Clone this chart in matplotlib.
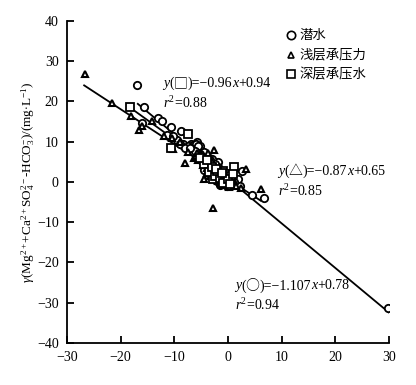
import matplotlib
matplotlib.use("Agg")
import matplotlib.pyplot as plt
import numpy as np

plt.rcParams['font.family'] = ['Liberation Serif', 'Noto Sans CJK SC', 'DejaVu Sans']
plt.rcParams['mathtext.fontset'] = 'custom'
plt.rcParams['mathtext.rm'] = 'Liberation Serif'
plt.rcParams['mathtext.it'] = 'Liberation Serif:italic'

# 潜水 (circles)
circ_x = [-16.9, -15.6, -16.1, -13.0, -12.2, -10.7, -11.4, -8.7, -6.8, -5.8, -5.2, -8.4,
          -1.8, 2.6, 4.5, 6.8, 29.9, -1.5,
          -6.5, -6.0, -5.5, -5.0, -4.6, -4.2, -4.0, -3.8, -3.5, -3.2, -3.0, -2.8, -2.5,
          -2.3, -2.0, -1.8, -1.5, -1.3, -1.0, -0.8, -0.5, -0.3, 0.0, 0.3, 0.6, 1.0, 1.5,
          1.8, 2.2, -4.5, -3.8, -2.2, -1.5, -7.5, -9.5, -10.2, -9.0, -8.0, -6.0, -5.5,
          -4.8, -4.1, -3.4, -2.7, -2.0, -1.2, -0.6, 0.2, 0.8, -3.6, -2.9, -1.9, -0.9,
          -4.4, -3.0, -2.4, -1.7, -0.2, 0.5, -5.3, -6.2, -7.0,
          -3.3, -2.6, -1.4, -0.7, 0.1, 1.2]
circ_y = [24.0, 18.7, 14.7, 15.9, 15.0, 13.6, 11.7, 12.6, 9.4, 9.8, 8.8, 9.3,
          4.9, 2.7, -3.2, -4.0, -31.2, -0.7,
          9.2, 8.0, 7.5, 6.5, 5.8, 6.8, 5.0, 4.2, 3.5, 4.8, 2.8, 3.6, 2.2,
          3.0, 1.5, 2.6, 0.8, 1.9, 0.3, 1.2, -0.4, 0.6, 0.0, -0.5, 0.4, -0.8, -0.2,
          0.8, -1.0, 3.0, 1.8, 0.5, -0.6, 9.0, 10.5, 11.5, 9.5, 8.5, 9.5, 9.0,
          5.2, 4.6, 2.0, 1.2, 0.2, 2.4, 1.6, 1.0, -0.2, 6.0, 4.0, 3.6, 2.8,
          7.4, 5.8, 4.4, 1.1, -0.9, 0.2, 7.0, 7.6, 8.4,
          5.4, 3.3, 1.4, 0.9, 0.5, 0.0]

# 浅层承压力 (triangles)
tri_x = [-26.7, -21.6, -18.0, -16.5, -16.1, -14.2, -10.3, -8.0, -6.4, -4.5, -2.7, -2.6,
         3.3, 6.1, 2.5, 0.1,
         -5.0, -4.3, -3.5, -3.0, -2.5, -2.0, -1.6, -1.0, -0.5, 0.2, 0.8, 1.5, -3.8, -4.0,
         -3.2, -2.8, -1.8, -0.8, -6.0, -7.5, -12.0, -10.5, -9.0, -5.5,
         -4.6, -3.6, -2.2, -1.3, -0.2, -3.9, -2.4, -1.1, 0.5, -5.8,
         -3.1, -1.9, -0.6, 1.0]
tri_y = [26.8, 19.5, 16.4, 12.9, 13.9, 15.0, 8.1, 4.6, 5.9, 0.7, -6.5, 7.8,
         3.1, -1.7, -1.6, -1.2,
         7.0, 6.0, 6.5, 5.0, 4.0, 3.2, 2.0, 1.8, 0.8, 0.6, -0.3, -1.0, 7.2, 3.5,
         1.5, 2.5, 0.2, -0.8, 6.5, 7.5, 11.5, 11.0, 9.8, 5.5,
         4.2, 4.4, 1.0, 0.4, -0.2, 2.2, 2.6, 0.0, 0.2, 7.3,
         3.8, 2.9, 1.3, 0.6]

# 深层承压水 (squares)
sq_x = [-18.2, -10.6, -7.4, -2.7, 1.2, -1.0,
        -4.5, -3.5, -2.5, -1.5, -0.5, 0.5, -1.0, -2.0, -3.0, 0.0, 1.0, -5.2,
        -4.0, -2.2, -1.2, 0.3]
sq_y = [18.7, 8.3, 11.9, 0.8, 3.6, 2.7,
        4.5, 2.5, 1.5, 1.0, 2.0, 1.5, -0.2, 2.8, 3.8, 0.8, 2.0, 6.0,
        5.5, 3.2, 2.2, -0.4]

# regression fits: slope, intercept, x-range
fit_circ = (-1.107, 0.78, -16.8, 30.0)
fit_tri = (-0.87, 0.65, -26.8, 6.1)
fit_sq = (-0.96, 0.94, -18.2, 1.2)

fig = plt.figure(figsize=(4.16, 3.85), dpi=100)
ax = fig.add_axes([0.161, 0.109, 0.774, 0.837])

for k, b, x0, x1 in (fit_tri, fit_sq, fit_circ):
    xs = np.array([x0, x1])
    ax.plot(xs, k * xs + b, color='black', lw=1.3, zorder=2)

mk = dict(mfc='white', mec='black', ls='none', zorder=3)
ax.plot(circ_x, circ_y, marker='o', ms=5.3, mew=1.3, **mk)
ax.plot(tri_x, tri_y, marker='^', ms=4.5, mew=1.5, **mk)
ax.plot(sq_x, sq_y, marker='s', ms=6, mew=1.3, **mk)

ax.set_xlim(-30, 30)
ax.set_ylim(-40, 40)
ax.set_xticks([-30, -20, -10, 0, 10, 20, 30])
ax.set_yticks([-40, -30, -20, -10, 0, 10, 20, 30, 40])
ax.set_xticklabels(['\u221230', '\u221220', '\u221210', '0', '10', '20', '30'])
ax.set_yticklabels(['\u221240', '\u221230', '\u221220', '\u221210', '0', '10', '20', '30', '40'])
for s in ['top', 'right']:
    ax.spines[s].set_visible(False)
for s in ['left', 'bottom']:
    ax.spines[s].set_linewidth(1.3)
ax.tick_params(direction='in', length=5, width=1.3, labelsize=10, pad=6)

ax.set_ylabel(r'$\gamma$(Mg$^{2+}$+Ca$^{2+}$SO$_4^{2-}$-HCO$_3^{-}$)/(mg$\cdot$L$^{-1}$)',
              fontsize=9.5, labelpad=0)

ts = 10
SERIF = ['Liberation Serif', 'DejaVu Sans']
CJK = ['Noto Sans CJK SC']


def rich(x, y, parts):
    prev = None
    for txt, style, fam in parts:
        kw = dict(fontsize=ts, family=fam, style=style, va='center')
        if prev is None:
            prev = ax.text(x, y, txt, **kw)
        else:
            prev = ax.annotate(txt, xy=(1, 0.5), xycoords=prev, ha='left', **kw)


def eq(sym, slope, icpt):
    return [('y', 'italic', SERIF), ('(', 'normal', SERIF), (sym, 'normal', CJK),
            (')=−' + slope, 'normal', SERIF), ('x', 'italic', SERIF), ('+' + icpt, 'normal', SERIF)]


rich(-12.1, 24.5, eq('□', '0.96', '0.94'))
ax.text(-12.1, 19.6, r'$r^2$=0.88', fontsize=ts, va='center')
rich(9.3, 2.7, eq('△', '0.87', '0.65'))
ax.text(9.3, -2.3, r'$r^2$=0.85', fontsize=ts, va='center')
rich(1.3, -25.8, eq('○', '1.107', '0.78'))
ax.text(1.3, -30.5, r'$r^2$=0.94', fontsize=ts, va='center')

leg_labels = ['潜水', '浅层承压力', '深层承压水']
leg_markers = ['o', '^', 's']
for i, (lab, m) in enumerate(zip(leg_labels, leg_markers)):
    yy = 36.5 - i * 4.9
    ax.plot([11.8], [yy], marker=m, ms=6 if m != '^' else 5, mew=1.2, **mk, clip_on=False)
    ax.text(13.4, yy, lab, fontsize=9.6, va='center', family=['Noto Sans CJK SC'])

fig.savefig('out.png', dpi=100)
